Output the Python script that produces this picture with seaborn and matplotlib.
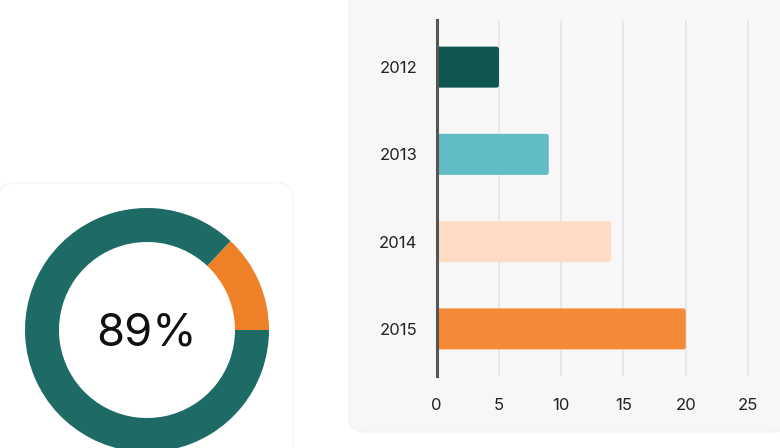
import numpy as np
import pandas as pd
import seaborn as sns
from matplotlib import pyplot as plt
from matplotlib.patches import FancyBboxPatch
from matplotlib.transforms import IdentityTransform

sns.set_style('white')
plt.rcParams['font.family'] = ['Inter', 'DejaVu Sans']

# data
years = ['2012', '2013', '2014', '2015']
values = [5, 9, 14, 20]
bar_colors = ['#0f5651', '#62bcc4', '#fedcc4', '#f48a37']
xticks = [0, 5, 10, 15, 20, 25]

donut_values = [13, 87]          # orange, teal
donut_colors = ['#ee8128', '#1e6b66']
donut_label = '89%'

W, H = 780, 448
fig = plt.figure(figsize=(W / 100, H / 100), dpi=100)
fig.patch.set_facecolor('white')

# cards (pixel coords, origin bottom-left)
left_card = FancyBboxPatch((-2, -30), 295, H - 183 + 30,
                           boxstyle='round,pad=0,rounding_size=16',
                           fc='white', ec='#f2f2f2', lw=0.7,
                           transform=IdentityTransform(), zorder=-2)
right_card = FancyBboxPatch((349, 16), 440, H - 16 + 20,
                            boxstyle='round,pad=0,rounding_size=16',
                            fc='#f7f7f7', ec='#efefef', lw=0.7,
                            transform=IdentityTransform(), zorder=-2)
fig.add_artist(left_card)
fig.add_artist(right_card)

# donut
cx, cy, r = 147, H - 330, 122
ax1 = fig.add_axes([(cx - r) / W, (cy - r) / H, 2 * r / W, 2 * r / H])
ax1.pie(donut_values, colors=donut_colors, startangle=0, counterclock=True,
        radius=1, wedgeprops=dict(width=34 / 122, linewidth=0))
ax1.set_xlim(-1, 1)
ax1.set_ylim(-1, 1)
ax1.set_aspect('equal')
ax1.text(0, -0.03, donut_label, ha='center', va='center', fontsize=32.5,
         fontweight='normal', color='#111111')
ax1.axis('off')

# bar chart
x0, y_top, y_bot = 436.7, 20, 376
ppu = (748 - 436.7) / 25
xmax = 26
ax2 = fig.add_axes([x0 / W, (H - y_bot) / H, xmax * ppu / W, (y_bot - y_top) / H])
ax2.set_facecolor('none')

df = pd.DataFrame({'Year': years, 'Value': values})
sns.barplot(data=df, x='Value', y='Year', hue='Year', palette=bar_colors,
            orient='h', width=0.47, legend=False, saturation=1, ax=ax2,
            linewidth=0)

ax2.set_xlim(0, xmax)
ax2.set_ylim(3.54, -0.54)

# rounded bar ends
ppu_y = (y_bot - y_top) / 4.08
for p in list(ax2.patches):
    bx, by = p.get_x(), p.get_y()
    bw, bh = p.get_width(), p.get_height()
    fc = p.get_facecolor()
    p.remove()
    ax2.add_patch(FancyBboxPatch((bx, by), bw, bh,
                                 boxstyle='round,pad=0,rounding_size=0.2',
                                 mutation_aspect=ppu / ppu_y,
                                 fc=fc, ec='none', zorder=2))

ax2.set_xticks(xticks)
ax2.set_xticklabels([str(t) for t in xticks])
ax2.set_xlabel('')
ax2.set_ylabel('')
for v in xticks[1:]:
    ax2.axvline(v, color='#e6e6ea', lw=1.2, zorder=0)
for s in ['top', 'right', 'bottom']:
    ax2.spines[s].set_visible(False)
ax2.spines['left'].set_color('#555555')
ax2.spines['left'].set_linewidth(2.2)
ax2.spines['left'].set_zorder(5)
ax2.tick_params(axis='x', length=0, pad=16, labelsize=12, labelcolor='#222222')
ax2.tick_params(axis='y', length=0, pad=14, labelsize=12, labelcolor='#222222')

fig.savefig('out.png', dpi=100)
